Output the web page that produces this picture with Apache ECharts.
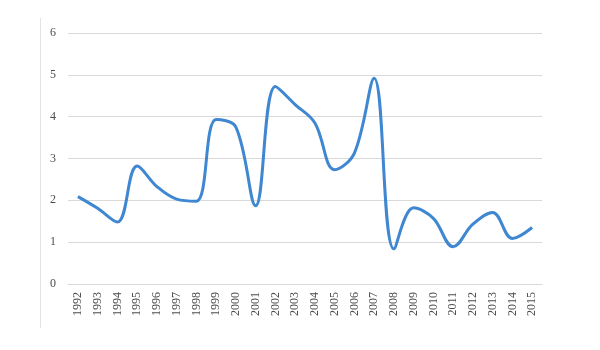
<!DOCTYPE html>
<html>
<head>
<meta charset="utf-8">
<script src="https://cdn.jsdelivr.net/npm/echarts@6/dist/echarts.min.js"></script>
<style>
  html, body { margin: 0; padding: 0; background: #fff; }
  #chart { width: 600px; height: 350px; }
</style>
</head>
<body>
<div id="chart"></div>
<script>
const years = ['1992', '1993', '1994', '1995', '1996', '1997', '1998', '1999', '2000', '2001', '2002', '2003',
  '2004', '2005', '2006', '2007', '2008', '2009', '2010', '2011', '2012', '2013', '2014', '2015'];
const values = [2.09, 1.81, 1.48, 2.82, 2.33, 2.03, 1.98, 3.93, 3.75, 1.87, 4.72, 4.29,
  3.85, 2.73, 3.13, 4.92, 0.84, 1.82, 1.57, 0.89, 1.43, 1.71, 1.09, 1.35];
const yTicks = { min: 0, max: 6, interval: 1 };

const chart = echarts.init(document.getElementById('chart'));

chart.setOption({
  animation: false,
  grid: { left: 68, right: 58, top: 33, bottom: 66 },
  // faint frame line on the left edge of the picture
  graphic: [{
    type: 'line',
    shape: { x1: 40.5, y1: 18, x2: 40.5, y2: 328 },
    style: { stroke: '#e4e4e4', lineWidth: 1 }
  }],
  xAxis: {
    type: 'category',
    data: years,
    boundaryGap: true,
    axisLine: { lineStyle: { color: '#d9d9d9' } },
    axisTick: { show: false },
    axisLabel: {
      rotate: 90,
      margin: 8,
      color: '#4d4d4d',
      fontFamily: 'Liberation Serif',
      fontSize: 12
    }
  },
  yAxis: {
    type: 'value',
    min: yTicks.min,
    max: yTicks.max,
    interval: yTicks.interval,
    axisLine: { show: false },
    axisTick: { show: false },
    splitLine: { lineStyle: { color: '#d9d9d9' } },
    axisLabel: {
      margin: 12,
      color: '#4d4d4d',
      fontFamily: 'Liberation Serif',
      fontSize: 12
    }
  },
  series: [{
    type: 'line',
    data: values,
    smooth: 0.38,
    showSymbol: false,
    lineStyle: { color: '#3f87d0', width: 3 }
  }]
});
</script>
</body>
</html>
